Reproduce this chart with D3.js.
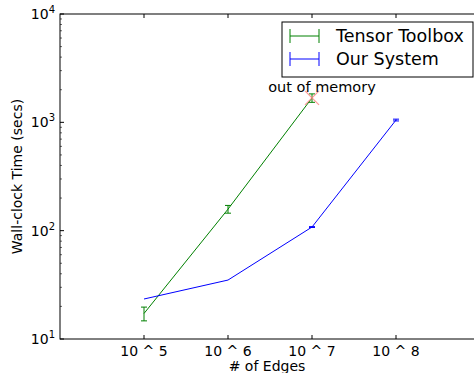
<!DOCTYPE html>
<html>
<head>
<meta charset="utf-8">
<script src="https://cdn.jsdelivr.net/npm/d3@7"></script>
<style>
  body { margin: 0; background: #fff; }
  svg { display: block; font-family: "DejaVu Sans", sans-serif; }
</style>
</head>
<body>
<div class="chart"></div>
<script>
// data
const edgeExps = [5, 6, 7, 8];
const tensorTime = [17.2, 158, 1680];
const tensorErr = [2.5, 13, 150];
const ourTime = [23.4, 35, 108, 1050];
const ourErr = [0, 0, 1, 20];
const yTicks = [1, 2, 3, 4];
const seriesNames = ["Tensor Toolbox", "Our System"];

const W = 474, H = 373;
const margin = {top: 14, left: 60, right: -6, bottom: 34};
const width = W - margin.left - margin.right,
  height = H - margin.top - margin.bottom;

const svg = d3.select('.chart')
  .append('svg')
  .attr('width', W)
  .attr('height', H);
const g = svg.append("g")
  .attr("transform", "translate(" + margin.left + "," + margin.top + ")");

const xScale = d3.scaleLinear().domain([4, 9]).range([0, width]);
const yScale = d3.scaleLog().domain([10, 10000]).range([height, 0]);

const green = "#008000", blue = "#0000ff";

// minor log ticks
let minors = [];
for (let e = 1; e < 4; e++) for (let k = 2; k < 10; k++) minors.push(k * Math.pow(10, e));

// frame
g.append("rect")
  .attr("width", width).attr("height", height)
  .attr("fill", "none").attr("stroke", "#000").attr("stroke-width", 1);

// y ticks (inward)
g.selectAll(".ymaj").data(yTicks).enter().append("line")
  .attr("x1", 0).attr("x2", 4)
  .attr("y1", d => yScale(Math.pow(10, d))).attr("y2", d => yScale(Math.pow(10, d)))
  .attr("stroke", "#000");
g.selectAll(".ymin").data(minors).enter().append("line")
  .attr("x1", 0).attr("x2", 2)
  .attr("y1", d => yScale(d)).attr("y2", d => yScale(d))
  .attr("stroke", "#000").attr("stroke-width", 0.6);

const ylab = g.selectAll(".ylab").data(yTicks).enter().append("text")
  .attr("x", -5)
  .attr("y", d => yScale(Math.pow(10, d)) + 5)
  .attr("text-anchor", "end")
  .attr("font-size", 14);
ylab.append("tspan").text("10");
ylab.append("tspan").attr("dy", -6).attr("font-size", 10).text(d => d);

// x ticks bottom & top
g.selectAll(".xb").data(edgeExps).enter().append("line")
  .attr("x1", d => xScale(d)).attr("x2", d => xScale(d))
  .attr("y1", height).attr("y2", height - 4).attr("stroke", "#000");
g.selectAll(".xt").data(edgeExps).enter().append("line")
  .attr("x1", d => xScale(d)).attr("x2", d => xScale(d))
  .attr("y1", 0).attr("y2", 4).attr("stroke", "#000");
g.selectAll(".xlab").data(edgeExps).enter().append("text")
  .attr("x", d => xScale(d))
  .attr("y", height + 17)
  .attr("text-anchor", "middle")
  .attr("font-size", 14)
  .text(d => "10 ^ " + d);

// axis labels
svg.append("text")
  .attr("x", (margin.left + W - margin.right) / 2 - 3)
  .attr("y", 371)
  .attr("text-anchor", "middle")
  .attr("font-size", 14)
  .text("# of Edges");
svg.append("text")
  .attr("transform", "translate(22," + (margin.top + height / 2) + ") rotate(-90)")
  .attr("text-anchor", "middle")
  .attr("font-size", 14)
  .text("Wall-clock Time (secs)");

function series(vals, errs, color) {
  const pts = vals.map((v, i) => ({x: edgeExps[i], y: v, e: errs[i]}));
  const line = d3.line().x(d => xScale(d.x)).y(d => yScale(d.y));
  g.append("path").datum(pts)
    .attr("d", line).attr("fill", "none").attr("stroke", color).attr("stroke-width", 1);
  const eb = g.selectAll(null).data(pts.filter(d => d.e > 0)).enter().append("g").attr("stroke", color);
  eb.append("line")
    .attr("x1", d => xScale(d.x)).attr("x2", d => xScale(d.x))
    .attr("y1", d => yScale(d.y - d.e)).attr("y2", d => yScale(d.y + d.e));
  eb.append("line")
    .attr("x1", d => xScale(d.x) - 3).attr("x2", d => xScale(d.x) + 3)
    .attr("y1", d => yScale(d.y - d.e)).attr("y2", d => yScale(d.y - d.e));
  eb.append("line")
    .attr("x1", d => xScale(d.x) - 3).attr("x2", d => xScale(d.x) + 3)
    .attr("y1", d => yScale(d.y + d.e)).attr("y2", d => yScale(d.y + d.e));
}
series(tensorTime, tensorErr, green);
series(ourTime, ourErr, blue);

// out of memory marker
const oomX = xScale(edgeExps[2]), oomY = yScale(tensorTime[2]);
[[-7, -7, 7, 7], [-7, 7, 7, -7]].forEach(s => {
  g.append("line")
    .attr("x1", oomX + s[0]).attr("y1", oomY + s[1])
    .attr("x2", oomX + s[2]).attr("y2", oomY + s[3])
    .attr("stroke", "#ff7f7f").attr("stroke-opacity", 0.8).attr("stroke-width", 1.2);
});
g.append("text")
  .attr("x", oomX + 10).attr("y", oomY - 6)
  .attr("text-anchor", "middle")
  .attr("font-size", 14.5)
  .text("out of memory");

// legend
const lg = svg.append("g").attr("transform", "translate(282,22)");
lg.append("rect")
  .attr("width", 191).attr("height", 55)
  .attr("fill", "#fff").attr("stroke", "#000");
const colors = [green, blue];
seriesNames.forEach((name, i) => {
  const y = 14 + i * 23;
  const it = lg.append("g").attr("stroke", colors[i]);
  it.append("line").attr("x1", 8).attr("x2", 37).attr("y1", y).attr("y2", y);
  it.append("line").attr("x1", 8).attr("x2", 8).attr("y1", y - 7).attr("y2", y + 7);
  it.append("line").attr("x1", 37).attr("x2", 37).attr("y1", y - 7).attr("y2", y + 7);
  lg.append("text")
    .attr("x", 54).attr("y", y + 6)
    .attr("font-size", 17.5)
    .text(name);
});
</script>
</body>
</html>
